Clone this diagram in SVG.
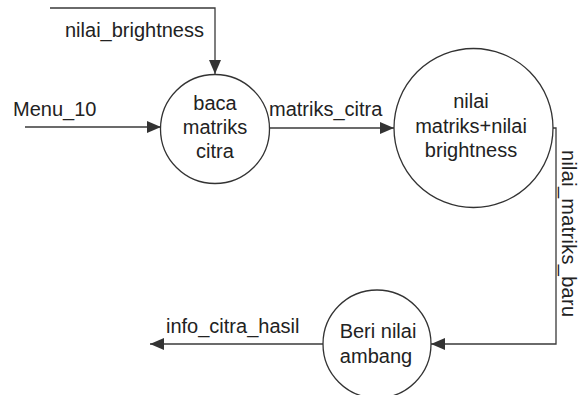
<svg xmlns="http://www.w3.org/2000/svg" width="580" height="395" viewBox="0 0 580 395">
  <style>
    .node { fill: #ffffff; stroke: #333333; stroke-width: 1.3; }
    .conn { fill: none; stroke: #3a3a3a; stroke-width: 1.3; }
    .lbl { font-family: "Liberation Sans", Arial, sans-serif; font-size: 20px; fill: #222222; }
    .mid { text-anchor: middle; }
  </style>
  <defs>
    <marker id="arr" markerUnits="userSpaceOnUse" markerWidth="14" markerHeight="12" refX="14" refY="6" orient="auto">
      <path d="M0,0 L14,6 L0,12 z" fill="#333333"/>
    </marker>
  </defs>
  <rect x="0" y="0" width="580" height="395" fill="#ffffff"/>

  <g id="connectors">
    <polyline class="conn" points="50,8 215,8 215,74" marker-end="url(#arr)"/>
    <line class="conn" x1="25" y1="127" x2="161" y2="127" marker-end="url(#arr)"/>
    <line class="conn" x1="269" y1="128" x2="394" y2="128" marker-end="url(#arr)"/>
    <polyline class="conn" points="553,128 556,128 556,344 431,344" marker-end="url(#arr)"/>
    <line class="conn" x1="323" y1="344" x2="150" y2="344" marker-end="url(#arr)"/>
    <text class="lbl" x="65" y="37">nilai_brightness</text>
    <text class="lbl" x="13" y="116">Menu_10</text>
    <text class="lbl" x="269" y="116">matriks_citra</text>
    <text class="lbl" x="166" y="333">info_citra_hasil</text>
    <text class="lbl" x="0" y="0" font-size="20" transform="translate(562,150) rotate(90)" textLength="167" lengthAdjust="spacing">nilai_matriks_baru</text>
  </g>

  <g id="baca-matriks-citra">
    <circle class="node" cx="215" cy="129" r="54.5"/>
    <text class="lbl mid" x="215" y="110">baca</text>
    <text class="lbl mid" x="215" y="134">matriks</text>
    <text class="lbl mid" x="215" y="158">citra</text>
  </g>

  <g id="nilai-matriks-brightness">
    <circle class="node" cx="473.5" cy="128" r="79.5"/>
    <text class="lbl mid" x="471" y="108">nilai</text>
    <text class="lbl mid" x="471" y="133">matriks+nilai</text>
    <text class="lbl mid" x="471" y="157">brightness</text>
  </g>

  <g id="beri-nilai-ambang">
    <circle class="node" cx="377" cy="344" r="54"/>
    <text class="lbl mid" x="378" y="338" font-size="21">Beri nilai</text>
    <text class="lbl mid" x="376" y="363" font-size="21">ambang</text>
  </g>
</svg>
